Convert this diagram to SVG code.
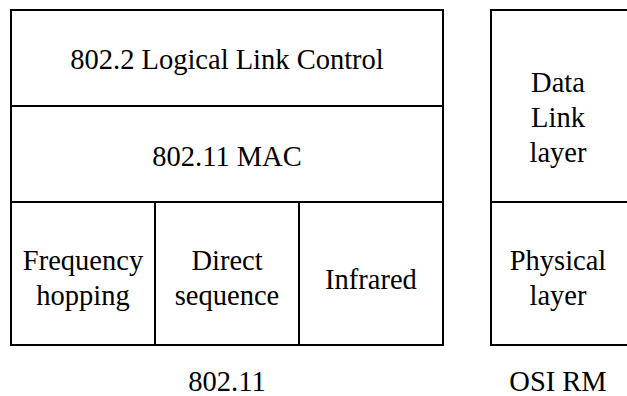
<svg xmlns="http://www.w3.org/2000/svg" width="627" height="396" viewBox="0 0 627 396">
  <style>
    .box { fill: #fff; stroke: #000; stroke-width: 2; }
    text { font-family: "Liberation Serif", "Times New Roman", serif; font-size: 28.5px; fill: #000; text-anchor: middle; }
  </style>
  <rect width="627" height="396" fill="#fff"/>

  <!-- 802.11 stack -->
  <g id="llc">
    <rect class="box" x="11" y="10" width="432" height="96"/>
    <text x="227" y="69">802.2 Logical Link Control</text>
  </g>
  <g id="mac">
    <rect class="box" x="11" y="106" width="432" height="96"/>
    <text x="227" y="166">802.11 MAC</text>
  </g>
  <g id="fhss">
    <rect class="box" x="11" y="202" width="144" height="143"/>
    <text x="83" y="270">Frequency</text>
    <text x="83" y="305">hopping</text>
  </g>
  <g id="dsss">
    <rect class="box" x="155" y="202" width="144" height="143"/>
    <text x="227" y="270">Direct</text>
    <text x="227" y="305">sequence</text>
  </g>
  <g id="ir">
    <rect class="box" x="299" y="202" width="144" height="143"/>
    <text x="371" y="289">Infrared</text>
  </g>
  <text x="227" y="391">802.11</text>

  <!-- OSI reference model -->
  <g id="datalink">
    <rect class="box" x="491" y="10" width="150" height="192"/>
    <text x="558" y="92">Data</text>
    <text x="558" y="127">Link</text>
    <text x="558" y="162">layer</text>
  </g>
  <g id="physical">
    <rect class="box" x="491" y="202" width="150" height="143"/>
    <text x="558" y="270">Physical</text>
    <text x="558" y="305">layer</text>
  </g>
  <text x="558" y="391">OSI RM</text>

  <g id="connectors"/>
</svg>
